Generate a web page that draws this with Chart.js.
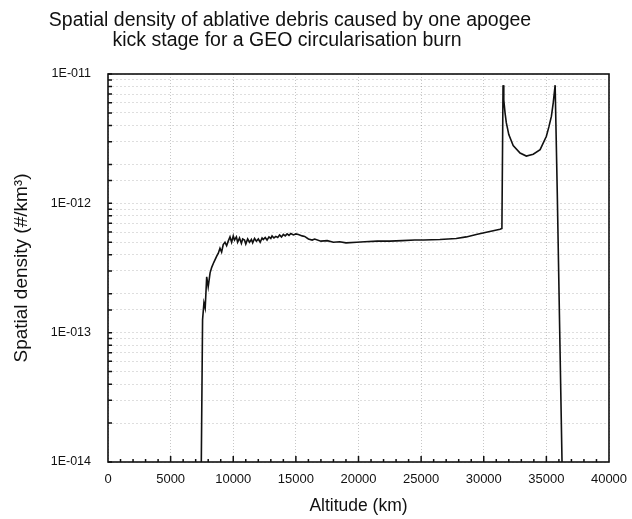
<!DOCTYPE html>
<html>
<head>
<meta charset="utf-8">
<script src="https://cdn.jsdelivr.net/npm/chart.js@4.4.1/dist/chart.umd.min.js"></script>
<style>
  html, body { margin: 0; padding: 0; background: #fff; }
  #wrap { width: 632px; height: 519px; }
</style>
</head>
<body>
<div id="wrap"><canvas id="c"></canvas></div>
<script>
// altitude (km) and spatial density (#/km3)
const altitude = [
  7450, 7550, 7660, 7760, 7880, 8000, 8150, 8280, 8450, 8680, 8800, 8940, 9070, 9200, 9340, 9470,
  9600, 9740, 9870, 10000, 10100, 10250, 10350, 10500, 10650, 10750, 10900, 11000, 11150, 11300,
  11450, 11550, 11700, 11850, 12000, 12150, 12300, 12400, 12550, 12700, 12850, 13000, 13100,
  13250, 13400, 13550, 13700, 13850, 14000, 14150, 14300, 14450, 14600, 14800, 15000, 15200,
  15500, 15700, 16000, 16300, 16500, 17000, 17500, 18000, 18500, 19000, 19850, 20500, 21500,
  22500, 23500, 24500, 25200, 26500, 27800, 28600, 29400, 30300, 31300, 31450,
  31540, 31600, 31700, 31800, 32000, 32350, 32900, 33400, 33950, 34500, 35000, 35200, 35400,
  35550, 35700, 35870, 36250
];
const density = [
  1e-14, 1.26e-13, 1.7e-13, 1.55e-13, 2.7e-13, 2.26e-13, 2.9e-13, 3.2e-13, 3.5e-13, 3.9e-13, 4.1e-13, 4.5e-13, 4.2e-13, 4.8e-13, 5.0e-13, 4.7e-13,
  5.1e-13, 5.5e-13, 5.0e-13, 5.6e-13, 5.2e-13, 5.5e-13, 5.0e-13, 5.4e-13, 4.9e-13, 5.3e-13, 5.2e-13, 4.85e-13, 5.3e-13, 5.0e-13,
  5.25e-13, 4.95e-13, 5.35e-13, 5.1e-13, 5.3e-13, 5.0e-13, 5.4e-13, 5.25e-13, 5.45e-13, 5.2e-13, 5.5e-13, 5.35e-13, 5.6e-13,
  5.4e-13, 5.55e-13, 5.45e-13, 5.7e-13, 5.5e-13, 5.75e-13, 5.6e-13, 5.8e-13, 5.65e-13, 5.85e-13, 5.7e-13, 5.8e-13, 5.75e-13,
  5.6e-13, 5.55e-13, 5.3e-13, 5.2e-13, 5.3e-13, 5.1e-13, 5.15e-13, 5.0e-13, 5.05e-13, 4.95e-13, 5.0e-13, 5.05e-13, 5.1e-13,
  5.1e-13, 5.15e-13, 5.2e-13, 5.2e-13, 5.25e-13, 5.35e-13, 5.5e-13, 5.75e-13, 6.0e-13, 6.3e-13, 6.4e-13,
  8.2e-12, 6.3e-12, 5.0e-12, 4.2e-12, 3.4e-12, 2.8e-12, 2.45e-12, 2.32e-12, 2.4e-12, 2.6e-12, 3.3e-12, 3.9e-12, 4.7e-12,
  6.0e-12, 8.2e-12, 1.2e-12, 1e-14
];
const titleLines = [
  'Spatial density of ablative debris caused by one apogee',
  'kick stage for a GEO circularisation burn'
];

const FONT = "'Liberation Sans', Arial, Helvetica, sans-serif";

function decadeLabel(v) {
  const e = Math.log10(v);
  const r = Math.round(e);
  if (Math.abs(e - r) > 1e-6) return '';
  return '1E-' + String(-r).padStart(3, '0');
}

const framePlugin = {
  id: 'frame',
  afterDraw(chart) {
    const ctx = chart.ctx;
    const a = chart.chartArea;
    const x = chart.scales.x, y = chart.scales.y;
    ctx.save();
    ctx.strokeStyle = '#111';
    ctx.lineWidth = 1.5;
    // inward minor ticks on bottom axis
    ctx.beginPath();
    for (let v = 1000; v < 40000; v += 1000) {
      const px = x.getPixelForValue(v);
      const len = v % 5000 === 0 ? 6 : 3;
      ctx.moveTo(px, a.bottom);
      ctx.lineTo(px, a.bottom - len);
    }
    // inward minor ticks on left axis
    y.ticks.forEach(t => {
      const py = y.getPixelForValue(t.value);
      ctx.moveTo(a.left, py);
      ctx.lineTo(a.left + 4, py);
    });
    ctx.stroke();
    ctx.lineWidth = 1.6;
    ctx.strokeRect(a.left, a.top, a.right - a.left, a.bottom - a.top);
    // title
    ctx.fillStyle = '#111';
    ctx.font = '19.5px ' + FONT;
    ctx.textAlign = 'center';
    ctx.textBaseline = 'middle';
    ctx.fillText(titleLines[0], 290, 21);
    ctx.fillText(titleLines[1], 287, 41);
    ctx.restore();
  }
};

new Chart(document.getElementById('c'), {
  type: 'line',
  data: {
    datasets: [{
      data: altitude.map((a, i) => ({ x: a, y: density[i] })),
      borderColor: '#111',
      borderWidth: 1.6,
      pointRadius: 0,
      tension: 0,
      fill: false
    }]
  },
  options: {
    responsive: true,
    maintainAspectRatio: false,
    animation: false,
    layout: { padding: { top: 74, right: 23, left: 0, bottom: 0 } },
    plugins: {
      legend: { display: false },
      tooltip: { enabled: false }
    },
    scales: {
      x: {
        type: 'linear',
        min: 0,
        max: 40000,
        afterFit(s) { s.height = 57; s.paddingLeft = 0; s.paddingRight = 0; },
        ticks: {
          stepSize: 5000,
          padding: 10,
          color: '#111',
          font: { family: FONT, size: 13 },
          maxRotation: 0,
          callback: v => String(v)
        },
        grid: {
          drawTicks: false,
          color: 'rgba(0,0,0,0.22)',
          lineWidth: 1
        },
        border: { display: false, dash: [1, 2] },
        title: {
          display: true,
          text: 'Altitude (km)',
          color: '#111',
          font: { family: FONT, size: 17.5 },
          padding: { top: 2, bottom: 2 }
        }
      },
      y: {
        type: 'logarithmic',
        min: 1e-14,
        max: 1e-11,
        afterFit(s) { s.width = 108; },
        ticks: {
          padding: 17,
          color: '#111',
          font: { family: FONT, size: 12.5 },
          autoSkip: false,
          callback: v => decadeLabel(v)
        },
        grid: {
          drawTicks: false,
          color: 'rgba(0,0,0,0.13)',
          lineWidth: 1
        },
        border: { display: false, dash: [2, 2] },
        title: {
          display: true,
          text: 'Spatial density (#/km³)',
          color: '#111',
          font: { family: FONT, size: 19 },
          padding: { top: 10, bottom: 0 }
        }
      }
    }
  },
  plugins: [framePlugin]
});
</script>
</body>
</html>
